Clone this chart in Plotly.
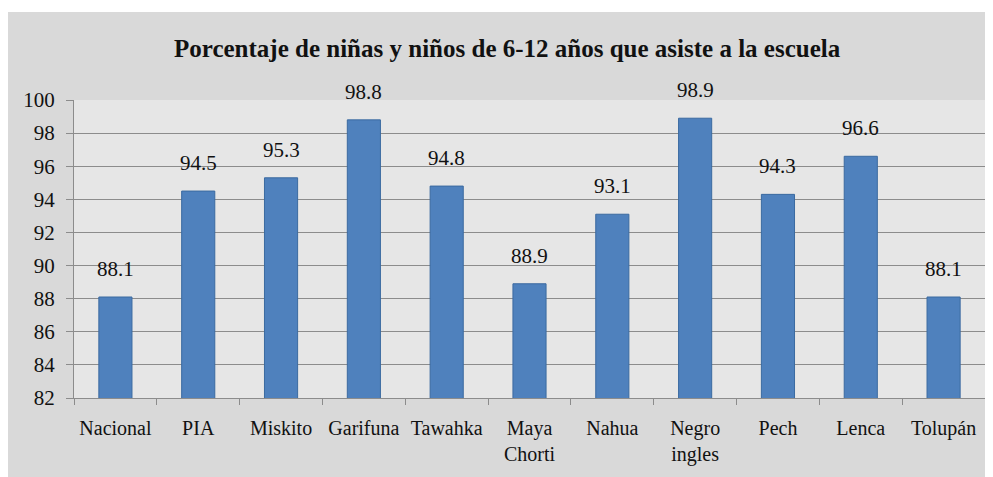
import plotly.graph_objects as go

categories = ["Nacional", "PIA", "Miskito", "Garifuna", "Tawahka", "Maya<br>Chorti",
              "Nahua", "Negro<br>ingles", "Pech", "Lenca", "Tolupán"]
values = [88.1, 94.5, 95.3, 98.8, 94.8, 88.9, 93.1, 98.9, 94.3, 96.6, 88.1]
y_ticks = [82, 84, 86, 88, 90, 92, 94, 96, 98, 100]
title_text = "Porcentaje de niñas y niños de 6-12 años que asiste a la escuela"

FONT = "Liberation Serif"
GRID = "#8c8c8c"

# page body has an 8px margin; figure is sized/offset to compensate
W, H = 985, 469
L, R, T, B = 66, 8, 92, 79
PW, PH = W - L - R, H - T - B

fig = go.Figure()
fig.add_trace(go.Bar(
    x=categories, y=values,
    marker=dict(color="#4f81bd", line=dict(color="#3b6aa0", width=1)),
    width=0.4,
))

for c, v in zip(categories, values):
    fig.add_annotation(x=c, y=v, text=f"{v:.1f}", showarrow=False,
                       yanchor="bottom", yshift=14,
                       font=dict(family=FONT, size=21, color="#111111"))

fig.add_annotation(xref="paper", yref="paper", x=(499 - L) / PW, y=1.0, yshift=52,
                   text=f"<b>{title_text}</b>", showarrow=False,
                   xanchor="center", yanchor="middle",
                   font=dict(family=FONT, size=25, color="#111111"))

# white strip above chart area
fig.add_shape(type="rect", xref="paper", yref="paper",
              x0=-0.2, x1=1.2, y0=(T + PH - 4) / PH, y1=1.6,
              fillcolor="white", line=dict(width=0), layer="above")

fig.update_layout(
    width=W, height=H,
    margin=dict(l=L, r=R, t=T, b=B, autoexpand=False),
    paper_bgcolor="#d9d9d9",
    plot_bgcolor="#e6e6e6",
    showlegend=False,
    font=dict(family=FONT, color="#111111"),
)
fig.update_yaxes(range=[82, 100], tickvals=y_ticks, showgrid=True, gridcolor=GRID,
                 gridwidth=1, showline=True, linecolor=GRID, linewidth=1,
                 ticks="outside", ticklen=7, tickcolor=GRID, automargin=False,
                 ticklabelstandoff=7,
                 tickfont=dict(family=FONT, size=21, color="#111111"),
                 zeroline=False, fixedrange=True)
fig.update_xaxes(showline=True, linecolor=GRID, linewidth=1, automargin=False,
                 ticks="outside", ticklen=6, tickcolor=GRID, tickson="boundaries",
                 ticklabelstandoff=12,
                 tickfont=dict(family=FONT, size=20, color="#111111"),
                 tickangle=0, fixedrange=True)

fig.write_html("out.html")
